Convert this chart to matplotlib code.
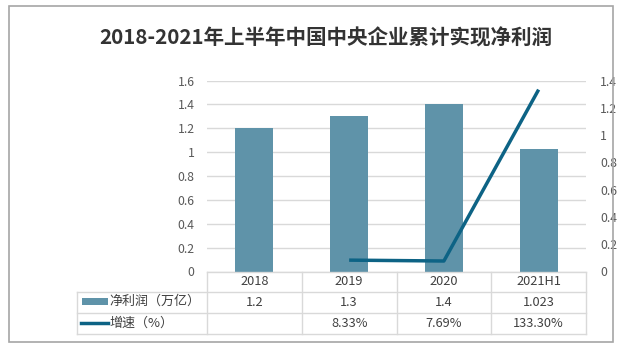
import matplotlib
matplotlib.use("Agg")
import matplotlib.pyplot as plt
from matplotlib.patches import Rectangle
from matplotlib.lines import Line2D
from matplotlib.transforms import blended_transform_factory

plt.rcParams['font.family'] = ['Noto Sans CJK SC', 'DejaVu Sans']

# ---- data ----
title = "2018-2021年上半年中国中央企业累计实现净利润"
categories = ["2018", "2019", "2020", "2021H1"]
profit = [1.2, 1.3, 1.4, 1.023]            # 净利润（万亿）
growth_pct = [None, 8.33, 7.69, 133.30]    # 增速（%）
profit_label = "净利润（万亿）"
growth_label = "增速（%）"
left_ticks = [0, 0.2, 0.4, 0.6, 0.8, 1, 1.2, 1.4, 1.6]
right_ticks = [0, 0.2, 0.4, 0.6, 0.8, 1, 1.2, 1.4]

W, H = 619, 347
fig = plt.figure(figsize=(W / 100, H / 100), dpi=100)

def fx(px):
    return px / W

def fy(py):
    return 1 - py / H

bar_color = "#5f93a9"
line_color = "#0d6385"
grid_color = "#d9d9d9"
tick_color = "#595959"
text_color = "#404040"

# axes: left 207, right 586, top 80, bottom 271 (pixels)
ax_l, ax_r, ax_t, ax_b = 207, 586, 80.5, 271.5
ax = fig.add_axes([fx(ax_l), fy(ax_b), (ax_r - ax_l) / W, (ax_b - ax_t) / H])
x = list(range(len(categories)))
ax.bar(x, profit, width=0.4, color=bar_color, zorder=3)
ax.set_xlim(-0.5, len(categories) - 0.5)
ax.set_ylim(0, 1.6)
ax.set_yticks(left_ticks)
ax.set_yticklabels([f"{t:g}" for t in left_ticks])
ax.yaxis.grid(True, color=grid_color, lw=1, zorder=0)
ax.set_axisbelow(True)
for s in ax.spines.values():
    s.set_visible(False)
ax.set_xticks([])
ax.tick_params(axis='y', length=0, labelsize=8.8, colors=tick_color, pad=9)

ax2 = ax.twinx()
gx = [i for i, g in zip(x, growth_pct) if g is not None]
gy = [g / 100 for g in growth_pct if g is not None]
ax2.plot(gx, gy, color=line_color, lw=2.5, zorder=4, solid_capstyle='butt')
ax2.set_ylim(0, 1.4)
ax2.set_yticks(right_ticks)
ax2.set_yticklabels([f"{t:g}" for t in right_ticks])
for s in ax2.spines.values():
    s.set_visible(False)
ax2.tick_params(axis='y', length=0, labelsize=8.8, colors=tick_color, pad=10)

# title
fig.text(fx(326), fy(38), title, ha='center', va='center', fontsize=14.8,
         fontweight='bold', color="#333333")

# ---- data table ----
tcol = blended_transform_factory(ax.transData, fig.transFigure)
y_head_top, y_r1, y_r2, y_bot = 271.7, 291.5, 312.7, 334.0
leg_left = 77
tbl_kw = dict(color=grid_color, lw=1, zorder=1)
# horizontal lines
fig.add_artist(Line2D([fx(ax_l), fx(ax_r)], [fy(y_head_top)] * 2, transform=fig.transFigure, **tbl_kw))
for yy in (y_r1, y_r2, y_bot):
    fig.add_artist(Line2D([fx(leg_left), fx(ax_r)], [fy(yy)] * 2, transform=fig.transFigure, **tbl_kw))
# vertical lines
fig.add_artist(Line2D([fx(leg_left)] * 2, [fy(y_r1), fy(y_bot)], transform=fig.transFigure, **tbl_kw))
for b in [i - 0.5 for i in range(len(categories) + 1)]:
    fig.add_artist(Line2D([b, b], [fy(y_head_top), fy(y_bot)], transform=tcol, **tbl_kw))

fs_tbl = 9.2
for i, c in enumerate(categories):
    fig.text(i, fy((y_head_top + y_r1) / 2), c, transform=tcol, ha='center', va='center',
             fontsize=fs_tbl, color=text_color)
    fig.text(i, fy((y_r1 + y_r2) / 2), f"{profit[i]:g}", transform=tcol, ha='center', va='center',
             fontsize=fs_tbl, color=text_color)
    if growth_pct[i] is not None:
        fig.text(i, fy((y_r2 + y_bot) / 2), f"{growth_pct[i]:.2f}%", transform=tcol, ha='center',
                 va='center', fontsize=fs_tbl, color=text_color)

# legend keys
fig.add_artist(Rectangle((fx(82), fy(304.5)), (108 - 82) / W, 7 / H, transform=fig.transFigure,
                         color=bar_color, lw=0))
fig.add_artist(Line2D([fx(81), fx(108)], [fy(323.3)] * 2, transform=fig.transFigure,
                      color=line_color, lw=2.5))
fig.text(fx(109), fy(301.5), profit_label, ha='left', va='center', fontsize=9.4, color=text_color)
fig.text(fx(109), fy(322.8), growth_label, ha='left', va='center', fontsize=9.4, color=text_color)

# outer border
fig.add_artist(Rectangle((fx(8.5), fy(342)), (613 - 8.5) / W, (342 - 6) / H, transform=fig.transFigure,
                         fill=False, edgecolor="#a6a6a6", lw=1.2))

fig.savefig("out.png", dpi=100)
